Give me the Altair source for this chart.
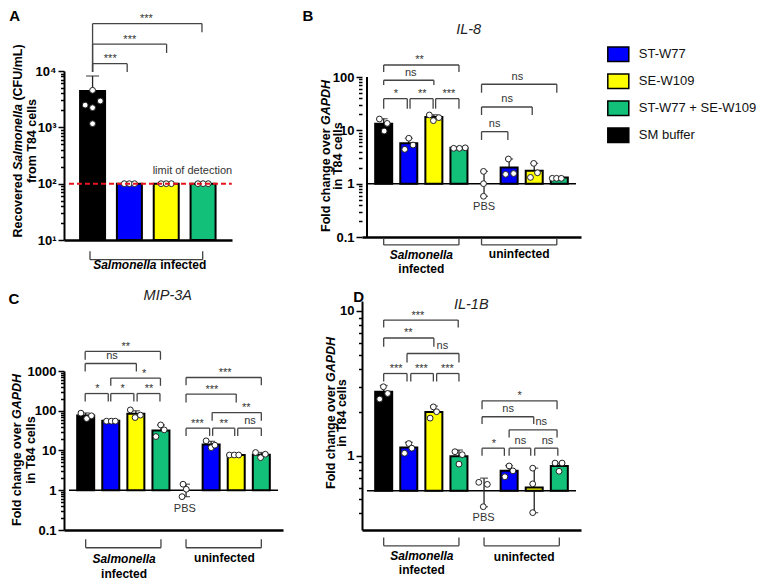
import json
import math
import altair as alt
import pandas as pd

FONT = "Liberation Sans"

GROUPS = ["ST-W77", "SE-W109", "ST-W77 + SE-W109", "SM buffer"]
COLORS = ["#0000ff", "#ffff00", "#12c07a", "#000000"]
INF = ["SM buffer", "ST-W77", "SE-W109", "ST-W77 + SE-W109"]
UNINF = ["ST-W77", "SE-W109", "ST-W77 + SE-W109"]

# ---------------- Panel A : recovered Salmonella (CFU/mL)
A_bar_x = [1, 2, 3, 4]
A_bar_group = INF
A_bar_mean = [4400, 100, 100, 100]
A_err_x = [1]
A_err_lo = [4400]
A_err_hi = [8150]
A_pts_x = [1.0, 0.80, 1.0, 1.21, 1.0, 1.86, 2.0, 2.14, 2.86, 3.0, 3.14, 3.86, 4.0, 4.14]
A_pts_y = [4540, 2480, 2230, 2930, 1160, 100, 100, 100, 100, 100, 100, 100, 100, 100]
# x1, x2, y, left leg end, right leg end, label, label x
A_brackets = [
    (1.0, 1.94, 13500, 9600, 9600, "***", 1.48),
    (1.0, 3.01, 29900, 9600, 20900, "***", 2.01),
    (1.0, 3.97, 69400, 9600, 48800, "***", 2.46),
]
A_ticks_major = [10, 100, 1000, 10000]
A_ticks_labels = ["10¹", "10²", "10³", "10⁴"]

# ---------------- Panel B : IL-8
B_bar_x = [1, 2, 3, 4, 6, 7, 8]
B_bar_group = INF + UNINF
B_bar_mean = [13.3, 5.7, 17.8, 4.7, 2.0, 1.75, 1.3]
B_err_x = [1, 2, 3, 4, 5, 6, 7, 8]
B_err_lo = [10.5, 4.5, 16.0, 4.6, 0.58, 1.4, 1.25, 1.26]
B_err_hi = [16.5, 7.1, 19.6, 4.8, 1.7, 2.9, 2.4, 1.34]
B_pts_x = [0.83, 1.14, 1.02, 2.0, 1.84, 2.17, 2.82, 2.98, 3.2, 3.79, 4.02, 4.25,
           4.98, 4.98, 4.98, 5.97, 5.86, 6.18, 6.98, 7.13, 6.85, 7.72, 7.89, 8.08]
B_pts_y = [16.3, 13.5, 9.7, 7.1, 4.4, 5.3, 19.4, 15.2, 17.3, 4.6, 4.6, 4.7,
           1.7, 1.0, 0.58, 2.9, 1.5, 1.55, 2.4, 1.6, 1.31, 1.26, 1.26, 1.26]
B_brackets = [
    (1.0, 4.0, 168, 124, 124, "**", 2.43),
    (1.0, 3.0, 86.9, 71, 71, "ns", 2.08),
    (1.0, 1.94, 39.3, 25.5, 25.5, "*", 1.49),
    (2.05, 2.97, 39.3, 25.5, 25.5, "**", 2.54),
    (3.07, 4.0, 39.3, 25.5, 25.5, "***", 3.6),
    (4.9, 7.9, 73.1, 50.8, 50.8, "ns", 6.33),
    (4.9, 6.92, 27.4, 19.4, 19.4, "ns", 5.92),
    (4.9, 5.95, 9.44, 6.6, 6.6, "ns", 5.42),
]
B_ticks_major = [0.1, 1, 10, 100]
B_ticks_labels = ["0.1", "1", "10", "100"]

# ---------------- Panel C : MIP-3A
C_bar_x = [1, 2, 3, 4, 6, 7, 8]
C_bar_group = INF + UNINF
C_bar_mean = [76, 56, 84, 32, 14.2, 7.7, 7.8]
C_err_x = [1, 2, 3, 4, 5, 6, 7, 8]
C_err_lo = [64, 54, 70, 23, 0.69, 12, 7.6, 6.9]
C_err_hi = [88, 58, 100, 44, 1.42, 17, 7.8, 8.9]
C_pts_x = [0.81, 1.04, 1.23, 1.83, 2.02, 2.18, 2.78, 2.97, 3.18, 3.99, 3.8, 4.13,
           4.88, 5.01, 4.84, 5.8, 6.0, 6.15, 6.73, 6.92, 7.1, 7.77, 7.97, 8.16]
C_pts_y = [87, 63.5, 74.6, 54.7, 54.7, 54.7, 105, 67.5, 77.6, 44, 22.4, 33,
           1.42, 1.06, 0.69, 17.5, 11.8, 13.6, 7.7, 7.7, 7.7, 8.9, 6.6, 8.06]
C_brackets = [
    (0.98, 3.98, 3100, 1915, 1915, "**", 2.6),
    (0.98, 3.02, 1545, 971, 971, "ns", 2.05),
    (2.0, 3.98, 662, 424, 424, "*", 3.33),
    (0.98, 1.9, 271, 171, 171, "*", 1.47),
    (2.0, 2.92, 271, 171, 171, "*", 2.47),
    (3.05, 3.96, 271, 171, 171, "**", 3.52),
    (5.0, 8.0, 686, 441, 441, "***", 6.56),
    (5.0, 7.0, 262, 161, 161, "***", 6.03),
    (6.04, 8.0, 90, 55.7, 55.7, "**", 7.4),
    (5.0, 5.94, 36.5, 23.3, 23.3, "***", 5.45),
    (6.06, 6.94, 36.5, 23.3, 23.3, "**", 6.5),
    (7.06, 8.0, 36.5, 23.3, 23.3, "ns", 7.55),
]
C_ticks_major = [0.1, 1, 10, 100, 1000]
C_ticks_labels = ["0.1", "1", "10", "100", "1000"]

# ---------------- Panel D : IL-1B  (bars start from the PBS level)
D_base = 0.5735
D_bar_x = [1, 2, 3, 4, 6, 7, 8]
D_bar_group = INF + UNINF
D_bar_mean = [2.772, 1.139, 2.010, 0.994, 0.787, 0.6045, 0.851]
D_err_x = [1, 2, 3, 4, 5, 6, 7, 8]
D_err_lo = [2.448, 1.042, 1.820, 0.876, 0.445, 0.7165, 0.405, 0.782]
D_err_hi = [3.057, 1.239, 2.203, 1.096, 0.701, 0.856, 0.8215, 0.891]
D_pts_x = [0.99, 1.16, 0.84, 2.0, 2.12, 1.83, 2.98, 3.11, 2.85, 3.84, 4.13, 4.0,
           4.79, 5.13, 4.97, 6.0, 6.15, 5.83, 6.94, 6.94, 6.94, 7.83, 8.11, 7.99]
D_pts_y = [2.997, 2.693, 2.465, 1.215, 1.129, 1.042, 2.176, 2.015, 1.820, 1.067, 1.018, 0.876,
           0.656, 0.635, 0.445, 0.851, 0.787, 0.7165, 0.8215, 0.640, 0.405, 0.891, 0.891, 0.782]
D_brackets = [
    (1.0, 3.97, 8.654, 7.686, 7.686, "***", 2.36),
    (1.0, 3.0, 6.509, 5.670, 5.670, "**", 1.98),
    (1.93, 4.0, 5.085, 4.406, 4.406, "ns", 3.34),
    (1.0, 1.93, 3.700, 3.260, 3.260, "***", 1.5),
    (2.08, 2.98, 3.700, 3.260, 3.260, "***", 2.5),
    (3.11, 4.0, 3.700, 3.260, 3.260, "***", 3.54),
    (4.92, 7.91, 2.398, 2.100, 2.100, "*", 6.42),
    (4.92, 6.98, 1.861, 1.655, 1.655, "ns", 5.96),
    (6.0, 7.91, 1.512, 1.339, 1.339, "ns", 7.28),
    (4.92, 5.81, 1.129, 0.999, 0.999, "*", 5.39),
    (6.0, 6.86, 1.129, 0.999, 0.999, "ns", 6.45),
    (7.02, 7.94, 1.129, 0.999, 0.999, "ns", 7.53),
]
D_ticks_major = [1, 10]
D_ticks_labels = ["1", "10"]

# y-axis title pieces: (text, italic, line index, shift along the line in px)
FOLD_T = [("Fold change over", False, 0, 0), ("GAPDH", True, 0, -107), ("in T84 cells", False, 1, 0)]


def log_ticks(lo, hi):
    vals = []
    for e in range(-3, 6):
        for m in range(1, 10):
            v = round(m * 10 ** e, 6)
            if lo * 0.9999 <= v <= hi * 1.0001:
                vals.append(v)
    return vals


def panel(cfg):
    xs = alt.Scale(domain=cfg["xdom"], nice=False, zero=False)
    ys = alt.Scale(type="log", domain=cfg["ydom"], nice=False)
    majors, labels = cfg["majors"], cfg["labels"]
    expr = " : ".join(f"datum.value == {m} ? '{l}'" for m, l in zip(majors, labels)) + " : ''"
    test = f"indexof({json.dumps(majors)}, datum.value) >= 0"
    yaxis = alt.Axis(
        title=None, values=log_ticks(cfg["ydom"][0], cfg["axis_top"]), labelExpr=expr,
        tickSize={"condition": {"test": test, "value": 6}, "value": 3.5},
        tickWidth=1.5, tickColor="black", domain=cfg["ydomain_line"], domainWidth=2,
        domainColor="black", labelFont=FONT, labelFontSize=13, labelFontWeight="bold",
        labelColor="black", labelPadding=2, labelOverlap=False, labelBound=False,
        labelFlush=False, grid=False)
    xaxis = alt.Axis(title=None, labels=False, ticks=False, domainWidth=2.5,
                     domainColor="black", grid=False)

    def X(f):
        return alt.X(f"{f}:Q", scale=xs, axis=xaxis)

    def Y(f):
        return alt.Y(f"{f}:Q", scale=ys, axis=yaxis)

    x0, x1 = cfg["xdom"]
    lb, lt = math.log10(cfg["ydom"][0]), math.log10(cfg["ydom"][1])

    def px2x(px):
        return x0 + px * (x1 - x0) / cfg["w"]

    def py2y(py):
        return 10 ** (lt - py / cfg["h"] * (lt - lb))

    layers = []
    if cfg.get("baseline") is not None:
        bl = pd.DataFrame({"x1": [x0], "x2": [x1], "y": [cfg["baseline"]]})
        layers.append(alt.Chart(bl).mark_rule(color="black", strokeWidth=1.5).encode(
            x=X("x1"), x2="x2", y=Y("y")))
    if not cfg["ydomain_line"]:
        al = pd.DataFrame({"x": [x0], "y1": [cfg["ydom"][0]], "y2": [cfg["axis_top"]]})
        layers.append(alt.Chart(al).mark_rule(color="black", strokeWidth=2).encode(
            x=X("x"), y=Y("y1"), y2="y2"))
    err = pd.DataFrame({"x": cfg["err_x"], "lo": cfg["err_lo"], "hi": cfg["err_hi"]})
    layers.append(alt.Chart(err).mark_rule(color="#222", strokeWidth=1.3).encode(
        x=X("x"), y=Y("lo"), y2="hi"))
    caps = pd.DataFrame({"x": cfg["err_x"] * 2, "y": cfg["err_lo"] + cfg["err_hi"]})
    layers.append(alt.Chart(caps).mark_tick(orient="horizontal", size=cfg["cap"], thickness=1.3,
                                            color="#222").encode(x=X("x"), y=Y("y")))
    bars = pd.DataFrame({"x": cfg["bar_x"], "mean": cfg["bar_mean"], "group": cfg["bar_group"],
                         "base": [cfg["bar_base"]] * len(cfg["bar_x"])})
    cs = alt.Scale(domain=GROUPS, range=COLORS)
    layers.append(alt.Chart(bars).mark_bar(size=cfg["bw"], stroke="black", strokeWidth=2).encode(
        x=X("x"), y=Y("mean"), y2="base",
        color=alt.Color("group:N", scale=cs, legend=cfg.get("legend"))))
    pts = pd.DataFrame({"x": cfg["pts_x"], "y": cfg["pts_y"]})
    layers.append(alt.Chart(pts).mark_point(filled=True, fill="white", stroke="#222",
                                            strokeWidth=1, size=34, opacity=1).encode(
        x=X("x"), y=Y("y")))
    for extra in cfg.get("extra", []):
        layers.append(extra(X, Y))
    segs = []
    for bx1, bx2, y, ll, lr, lab, lx in cfg["brackets"]:
        segs += [(bx1, bx2, y, y), (bx1, bx1, y, ll), (bx2, bx2, y, lr)]
    for gx1, gx2, y, leg in cfg["groups"]:
        segs += [(gx1, gx2, y, y), (gx1, gx1, y, leg), (gx2, gx2, y, leg)]
    sg = pd.DataFrame(segs, columns=["xa", "xb", "ya", "yb"])
    layers.append(alt.Chart(sg).mark_rule(color="#444", strokeWidth=1.3).encode(
        x=X("xa"), x2="xb", y=Y("ya"), y2="yb"))
    lab = pd.DataFrame([(b[6], b[2], b[5]) for b in cfg["brackets"]], columns=["x", "y", "t"])
    layers.append(alt.Chart(lab[lab.t != "ns"]).mark_text(
        font=FONT, fontSize=11, color="#333", dy=-1.5, baseline="alphabetic").encode(
        x=X("x"), y=Y("y"), text="t:N"))
    if (lab.t == "ns").any():
        layers.append(alt.Chart(lab[lab.t == "ns"]).mark_text(
            font=FONT, fontSize=11, color="#333", dy=-4.5, baseline="alphabetic").encode(
            x=X("x"), y=Y("y"), text="t:N"))
    for t, x, y, style in cfg["texts"]:
        d = pd.DataFrame({"x": [x], "y": [y], "t": [t]})
        layers.append(alt.Chart(d).mark_text(font=FONT, **style).encode(
            x=X("x"), y=Y("y"), text="t:N"))
    lines_x = cfg["title_lines_x"]
    starts = cfg["title_starts"]
    rows = []
    for t, ital, line, shift in cfg["title_parts"]:
        rows.append((t, ital, px2x(lines_x[line]), py2y(starts[line] + shift)))
    tt = pd.DataFrame(rows, columns=["t", "ital", "x", "y"])
    for ital in (False, True):
        sub = tt[tt.ital == ital]
        if len(sub):
            layers.append(alt.Chart(sub).mark_text(
                font=FONT, fontSize=12.5, fontWeight="bold",
                fontStyle="italic" if ital else "normal", color="black", angle=270,
                align="left", baseline="middle").encode(x=X("x"), y=Y("y"), text="t:N"))
    return alt.layer(*layers).properties(width=cfg["w"], height=cfg["h"])


GRP = dict(fontSize=12, fontWeight="bold", color="black", baseline="middle")
GRP_I = dict(fontSize=12, fontWeight="bold", fontStyle="italic", color="black", baseline="middle")
TITLE = dict(fontSize=14.5, fontStyle="italic", color="#222", baseline="middle")
LETTER = dict(fontSize=15, fontWeight="bold", color="black", baseline="top", align="left")
PBS = dict(fontSize=11, color="#333", baseline="middle")


def lod_layers(X, Y):
    d = pd.DataFrame({"x1": [0.36], "x2": [4.78], "y": [100]})
    return alt.layer(
        alt.Chart(d).mark_rule(color="#e8141c", strokeWidth=2, strokeDash=[5, 3]).encode(
            x=X("x1"), x2="x2", y=Y("y")),
        alt.Chart(pd.DataFrame({"x": [3.71], "y": [167], "t": ["limit of detection"]})).mark_text(
            font=FONT, fontSize=11, color="#333", baseline="middle").encode(
            x=X("x"), y=Y("y"), text="t:N"),
    )


legend = alt.Legend(title=None, orient="none", legendX=244.8, legendY=-28.3,
                    symbolType="M-1,-0.69H1V0.69H-1Z", symbolSize=441,
                    symbolStrokeColor="black", symbolStrokeWidth=1.5, symbolOpacity=1,
                    labelFont=FONT, labelFontSize=13, labelColor="#111", labelOffset=9,
                    rowPadding=5, padding=0, values=GROUPS)

pA = panel(dict(
    w=168, h=169, xdom=[0.36, 4.65], ydom=[10, 10000], axis_top=10000,
    majors=A_ticks_major, labels=A_ticks_labels, ydomain_line=True,
    title_parts=[("Recovered", False, 0, 0), ("Salmonella", True, 0, -67.4),
                 ("(CFU/mL)", False, 0, -136.9), ("from T84 cells", False, 1, 0)],
    title_lines_x=[-54.2, -39.8], title_starts=[166.5, 112],
    bar_x=A_bar_x, bar_mean=A_bar_mean, bar_group=A_bar_group, bar_base=10, bw=25, cap=13,
    err_x=A_err_x, err_lo=A_err_lo, err_hi=A_err_hi, pts_x=A_pts_x, pts_y=A_pts_y,
    brackets=A_brackets, groups=[(0.93, 3.99, 4.48, 6.3)],
    extra=[lod_layers],
    texts=[("Salmonella", 2.736, 3.65, dict(GRP_I, align="right")),
           ("infected", 2.838, 3.65, dict(GRP, align="left")),
           ("A", -1.26, 126100, LETTER)],
))

pB = panel(dict(
    w=219, h=166, xdom=[0.335, 8.665], ydom=[0.1, 129.6], axis_top=100,
    majors=B_ticks_major, labels=B_ticks_labels, ydomain_line=False,
    title_parts=FOLD_T, title_lines_x=[-42.5, -30.5], title_starts=[161, 118.7],
    bar_x=B_bar_x, bar_mean=B_bar_mean, bar_group=B_bar_group, bar_base=1, bw=17, cap=8,
    err_x=B_err_x, err_lo=B_err_lo, err_hi=B_err_hi, pts_x=B_pts_x, pts_y=B_pts_y,
    brackets=B_brackets, baseline=1, legend=legend,
    groups=[(1.0, 4.0, 0.071, 0.0945), (4.9, 7.9, 0.071, 0.0945)],
    texts=[("Salmonella", 2.5, 0.046, GRP_I), ("infected", 2.5, 0.025, GRP),
           ("uninfected", 6.4, 0.0475, GRP), ("PBS", 5.0, 0.37, PBS),
           ("IL-8", 4.386, 761, TITLE), ("B", -2.233, 1884, LETTER)],
))

pC = panel(dict(
    w=219, h=159, xdom=[0.335, 8.665], ydom=[0.1, 1000], axis_top=1000,
    majors=C_ticks_major, labels=C_ticks_labels, ydomain_line=True,
    title_parts=FOLD_T, title_lines_x=[-54.2, -39.8], title_starts=[155, 112.7],
    bar_x=C_bar_x, bar_mean=C_bar_mean, bar_group=C_bar_group, bar_base=1, bw=17, cap=8,
    err_x=C_err_x, err_lo=C_err_lo, err_hi=C_err_hi, pts_x=C_pts_x, pts_y=C_pts_y,
    brackets=C_brackets, baseline=1,
    groups=[(1.0, 4.0, 0.0358, 0.0583), (5.0, 8.0, 0.0358, 0.0583)],
    texts=[("Salmonella", 2.53, 0.0186, GRP_I), ("infected", 2.53, 0.00766, GRP),
           ("uninfected", 6.53, 0.02, GRP), ("PBS", 4.95, 0.33, PBS),
           ("MIP-3A", 4.272, 77100, TITLE), ("C", -2.08, 97100, LETTER)],
))

pD = panel(dict(
    w=219, h=229, xdom=[0.335, 8.665], ydom=[0.3073, 11.72], axis_top=11.72,
    majors=D_ticks_major, labels=D_ticks_labels, ydomain_line=True,
    title_parts=FOLD_T, title_lines_x=[-38, -26], title_starts=[188, 145.7],
    bar_x=D_bar_x, bar_mean=D_bar_mean, bar_group=D_bar_group, bar_base=D_base, bw=17, cap=8,
    err_x=D_err_x, err_lo=D_err_lo, err_hi=D_err_hi, pts_x=D_pts_x, pts_y=D_pts_y,
    brackets=D_brackets, baseline=D_base,
    groups=[(1.0, 4.0, 0.2391, 0.2731), (5.0, 8.0, 0.2391, 0.2731)],
    texts=[("Salmonella", 2.52, 0.2042, GRP_I), ("infected", 2.52, 0.1627, GRP),
           ("uninfected", 6.6, 0.2008, GRP), ("PBS", 4.98, 0.3717, PBS),
           ("IL-1B", 4.489, 10.96, TITLE), ("D", -0.217, 13.9, LETTER)],
))

left = alt.vconcat(pA, pC, spacing=131, bounds="flush").resolve_scale(color="independent")
right = alt.vconcat(pB, pD, spacing=64, bounds="flush").resolve_scale(color="independent")
chart = (alt.hconcat(left, right, spacing=298, bounds="flush")
         .resolve_scale(color="independent")
         .properties(padding=0, background="white")
         .configure(font=FONT)
         .configure_view(stroke=None))

chart.save("out.html", embed_options={"renderer": "svg", "actions": False})
